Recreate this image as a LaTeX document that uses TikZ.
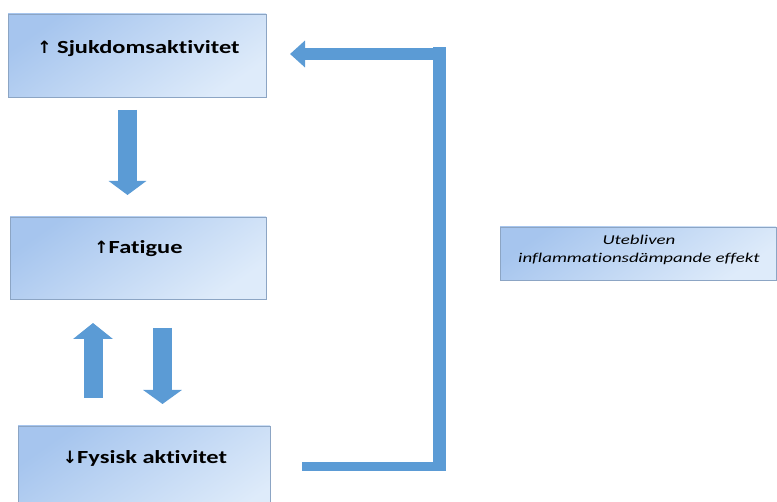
\documentclass[tikz,border=0pt]{standalone}
\usepackage{fontspec}
\setmainfont{Carlito}[Ligatures=NoCommon]
\newfontfamily\widebold{Carlito}[Ligatures=NoCommon, FakeStretch=1.32, UprightFont=*-Bold]
\newfontfamily\wideital{Carlito}[Ligatures=NoCommon, FakeStretch=1.4, UprightFont=*-Italic]
\newfontfamily\symfont{DejaVu Sans}[UprightFont=* Bold]
\usetikzlibrary{arrows.meta}
\definecolor{boxtop}{HTML}{A6C5EE}
\definecolor{boxbot}{HTML}{DEEBFA}
\definecolor{boxline}{HTML}{8CA5C4}
\definecolor{arrowblue}{HTML}{5B9BD5}
\newcommand{\uparr}{{\symfont\fontsize{17}{18}\selectfont ↑}}
\newcommand{\downarr}{{\symfont\fontsize{17}{18}\selectfont ↓}}
\tikzset{
  box/.style={draw=boxline, line width=0.9pt, top color=boxtop, bottom color=boxbot, shading angle=35, inner sep=0pt},
  lbl/.style={font=\widebold\fontsize{18.5}{20}\selectfont, inner sep=0pt},
  note/.style={font=\wideital\fontsize{13.5}{18}\selectfont, align=center, inner sep=0pt},
  blockarrow/.style={draw=arrowblue, line width=19pt},
  feedback/.style={draw=arrowblue, line cap=butt},
}
\begin{document}
\begin{tikzpicture}[x=1pt,y=-1pt]
\useasboundingbox (0,0) rectangle (777,502);
\clip (0,0) rectangle (777,502);
% boxes
\node[box, minimum width=258pt, minimum height=83pt] (b1) at (137,55.5) {};
\node[lbl] (t1) at (138.5,49) {\uparr\ Sjukdomsaktivitet};
\node[box, minimum width=256pt, minimum height=82pt] (b2) at (138,258) {};
\node[lbl] (t2) at (138.5,249) {\uparr Fatigue};
\node[box, minimum width=252pt, minimum height=100pt] (b3) at (144,476) {};
\node[lbl] (t3) at (145,458) {\downarr Fysisk aktivitet};
\node[box, minimum width=276pt, minimum height=53pt] (b4) at (638,253.5) {};
\node[note] (t4) at (639,250) {Utebliven\\inflammationsdämpande effekt};
% block arrows
\coordinate (a1s) at (127.5,110);
\coordinate (a1e) at (127.5,195);
\draw[blockarrow, -{Triangle[length=14pt,width=37pt]}] (a1s) -- (a1e);
\coordinate (a2s) at (93,398);
\coordinate (a2e) at (93,323);
\draw[blockarrow, -{Triangle[length=16pt,width=39pt]}] (a2s) -- (a2e);
\coordinate (a3s) at (162.5,328);
\coordinate (a3e) at (162.5,404);
\draw[blockarrow, -{Triangle[length=14pt,width=38pt]}] (a3s) -- (a3e);
% feedback loop
\coordinate (f1) at (302,466.5);
\coordinate (f2) at (446,466.5);
\coordinate (f3) at (439.5,471);
\coordinate (f4) at (439.5,47);
\coordinate (f5) at (446,54);
\coordinate (f6) at (290,54);
\draw[feedback, line width=9pt] (f1) -- (f2);
\draw[feedback, line width=13pt] (f3) -- (f4);
\draw[feedback, line width=12pt, -{Triangle[length=15pt,width=26pt]}] (f5) -- (f6);
\end{tikzpicture}
\end{document}
